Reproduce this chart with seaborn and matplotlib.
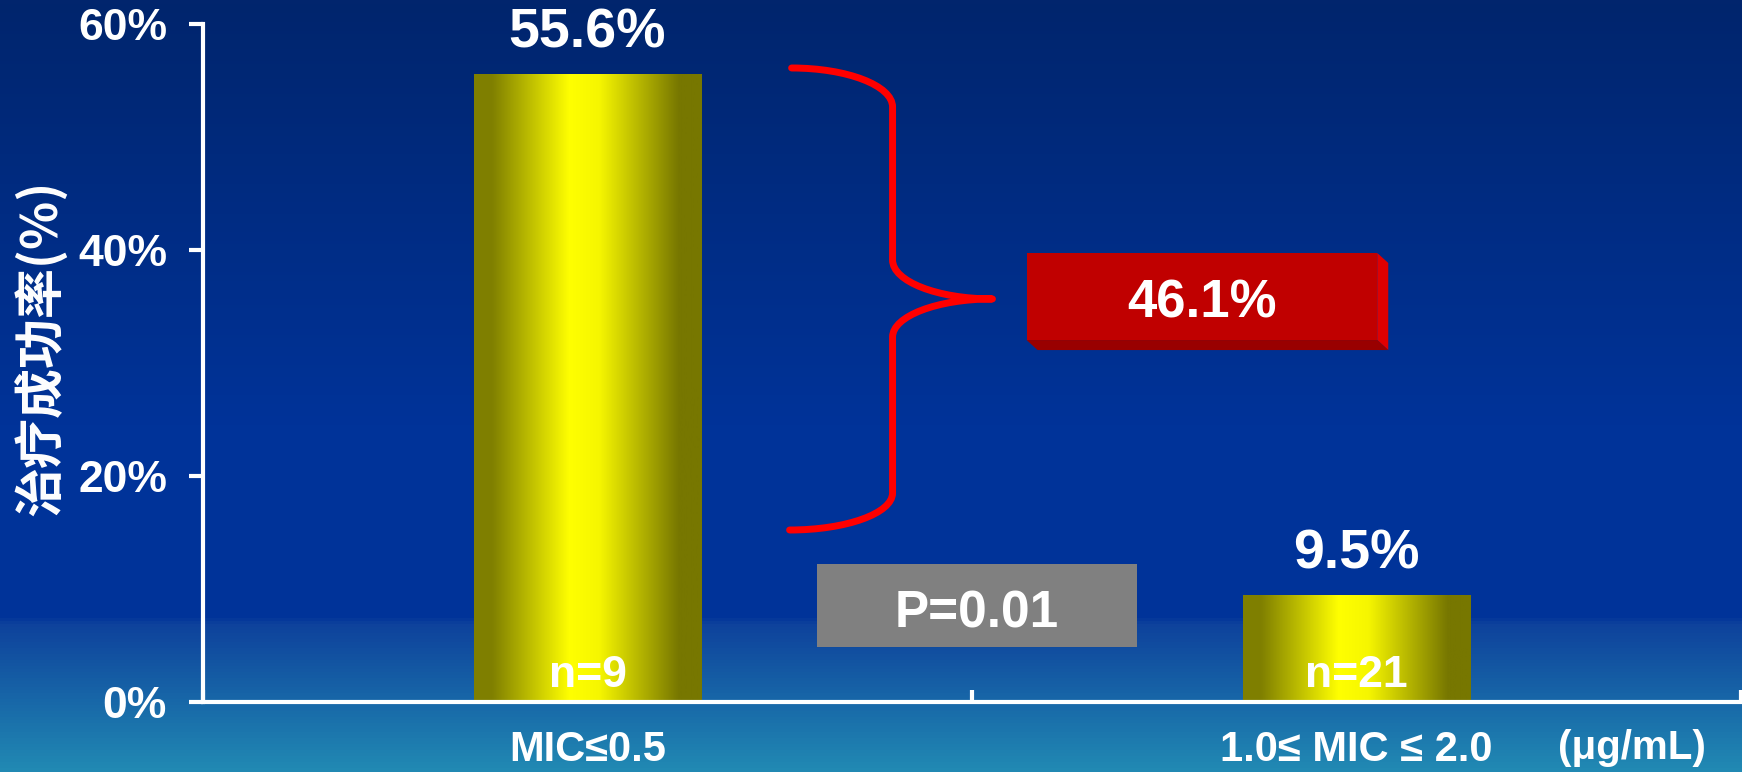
import numpy as np
import pandas as pd
import matplotlib
matplotlib.use("Agg")
import matplotlib.pyplot as plt
from matplotlib.colors import LinearSegmentedColormap
from matplotlib.path import Path
from matplotlib.patches import PathPatch, Rectangle, Polygon
import seaborn as sns

# ---- data ----
categories = ["MIC≤0.5", "1.0≤ MIC ≤ 2.0"]
success_rates = [55.6, 9.5]
sample_sizes = [9, 21]
y_ticks = [0, 20, 40, 60]
y_tick_labels = ["0%", "20%", "40%", "60%"]
rate_difference = 46.1
p_value_text = "P=0.01"
unit_text = "(μg/mL)"
y_title = "治疗成功率(%)"

sns.set_style("white")
plt.rcParams["font.family"] = ["Liberation Sans", "DejaVu Sans"]
plt.rcParams["font.weight"] = "bold"
cjk = ["Noto Sans CJK SC", "DejaVu Sans"]

W, H = 1742, 772
fig = plt.figure(figsize=(W / 100, H / 100), dpi=100)

# slide-style vertical background gradient
bg = fig.add_axes([0, 0, 1, 1], zorder=-10)
bg_cmap = LinearSegmentedColormap.from_list(
    "bg",
    [(0.0, "#01256D"), (0.55, "#003399"), (0.80, "#003399"),
     (0.81, "#0E429C"), (1.0, "#2189B3")],
)
bg.imshow(np.linspace(0, 1, H)[:, None], aspect="auto", cmap=bg_cmap,
          extent=[0, 1, 0, 1], origin="upper")
bg.set_axis_off()

# main plotting area
ax = fig.add_axes([203 / W, 70 / H, 1538 / W, 677.6 / H])
ax.patch.set_alpha(0)

df = pd.DataFrame({"group": categories, "rate": success_rates})
sns.barplot(data=df, x="group", y="rate", ax=ax, width=0.296,
            color="yellow", saturation=1, zorder=2)

# cylinder-like horizontal shading on each bar
bar_cmap = LinearSegmentedColormap.from_list(
    "bar",
    [(0.0, "#7F7F00"), (0.08, "#808000"), (0.42, "#FFFF00"),
     (0.55, "#F6F600"), (0.9, "#777700"), (1.0, "#777700")],
)
grad = np.linspace(0, 1, 256)[None, :]
for patch in ax.patches:
    x0, y0 = patch.get_x(), patch.get_y()
    w, h = patch.get_width(), patch.get_height()
    im = ax.imshow(grad, extent=[x0, x0 + w, y0, y0 + h], aspect="auto",
                   cmap=bar_cmap, zorder=2)
    im.set_clip_path(patch)
    patch.set_facecolor("none")
    patch.set_edgecolor("none")

ax.set_xlim(-0.5, 1.5)
ax.set_ylim(0, 60)

# axes styling
for side in ["top", "right"]:
    ax.spines[side].set_visible(False)
for side in ["left", "bottom"]:
    ax.spines[side].set_color("white")
    ax.spines[side].set_linewidth(3)
    ax.spines[side].set_zorder(5)

ax.set_yticks(y_ticks)
ax.set_yticklabels(y_tick_labels)
ax.tick_params(axis="y", left=True, direction="out", length=10, width=3,
               color="white", labelcolor="white", labelsize=32, pad=16)
ax.set_xticks(range(len(categories)))
ax.set_xticklabels(categories)
ax.tick_params(axis="x", which="major", bottom=True, length=0,
               labelcolor="white", labelsize=30, pad=20)
ax.set_xticks([-0.5, 0.5, 1.5], minor=True)
ax.tick_params(axis="x", which="minor", bottom=True, direction="in",
               length=9, width=3, color="white")
ax.set_xlabel("")
ax.set_ylabel("")

# value labels and sample sizes
for i, (v, n) in enumerate(zip(success_rates, sample_sizes)):
    ax.annotate(f"{v}%", (i, v), xytext=(0, 19), textcoords="offset points",
                ha="center", va="baseline", fontsize=40, color="white",
                fontweight="bold")
    ax.annotate(f"n={n}", (i, 0), xytext=(0, 11), textcoords="offset points",
                ha="center", va="baseline", fontsize=32, color="white",
                fontweight="bold", zorder=6)

# p-value box
ax.add_patch(Rectangle((0.298, 4.87), 0.417, 7.35, facecolor="#808080",
                       edgecolor="none", zorder=3))
ax.text(0.5065, 6.64, p_value_text, ha="center", va="baseline",
        fontsize=37, color="white", fontweight="bold", zorder=4)

# difference box with a shallow 3D edge
fx0, fx1, fy0, fy1 = 0.571, 1.027, 32.05, 39.76
dx, dy = 0.0143, 0.886
ax.add_patch(Polygon([(fx1, fy1), (fx1 + dx, fy1 - dy), (fx1 + dx, fy0 - dy),
                      (fx1, fy0)], closed=True, facecolor="#E00000",
                     edgecolor="none", zorder=3))
ax.add_patch(Polygon([(fx0, fy0), (fx1, fy0), (fx1 + dx, fy0 - dy),
                      (fx0 + dx, fy0 - dy)], closed=True, facecolor="#990000",
                     edgecolor="none", zorder=3))
ax.add_patch(Rectangle((fx0, fy0), fx1 - fx0, fy1 - fy0, facecolor="#C00000",
                       edgecolor="none", zorder=3))
ax.text((fx0 + fx1) / 2, 34.09, f"{rate_difference}%", ha="center",
        va="baseline", fontsize=38, color="white", fontweight="bold", zorder=4)

# curly brace linking the two groups
P0 = (0.2654, 56.14)
P1 = (0.3967, 52.69)
P2 = (0.3967, 39.14)
P3 = (0.5266, 35.69)
P4 = (0.3967, 32.32)
P5 = (0.3967, 18.51)
P6 = (0.2628, 15.23)
k = 0.55
verts = [
    P0,
    (P0[0] + k * (P1[0] - P0[0]), P0[1]), (P1[0], P1[1] + k * (P0[1] - P1[1])), P1,
    P2,
    (P2[0], P2[1] - k * (P2[1] - P3[1])), (P3[0] - k * (P3[0] - P2[0]), P3[1]), P3,
    (P3[0] - k * (P3[0] - P4[0]), P3[1]), (P4[0], P4[1] + k * (P3[1] - P4[1])), P4,
    P5,
    (P5[0], P5[1] - k * (P5[1] - P6[1])), (P6[0] + k * (P5[0] - P6[0]), P6[1]), P6,
]
codes = ([Path.MOVETO] + [Path.CURVE4] * 3 + [Path.LINETO] + [Path.CURVE4] * 6
         + [Path.LINETO] + [Path.CURVE4] * 3)
ax.add_patch(PathPatch(Path(verts, codes), facecolor="none", edgecolor="#FF0000",
                       linewidth=5, capstyle="round", joinstyle="round", zorder=4))

# titles
fig.text(42 / W, 1 - 348 / H, y_title, rotation=90, ha="center", va="center",
         fontsize=36, color="white", family=cjk, fontweight="bold")
fig.text(1632 / W, 13 / H, unit_text, ha="center", va="baseline",
         fontsize=29, color="white", fontweight="bold")

fig.savefig("out.png", dpi=100)
